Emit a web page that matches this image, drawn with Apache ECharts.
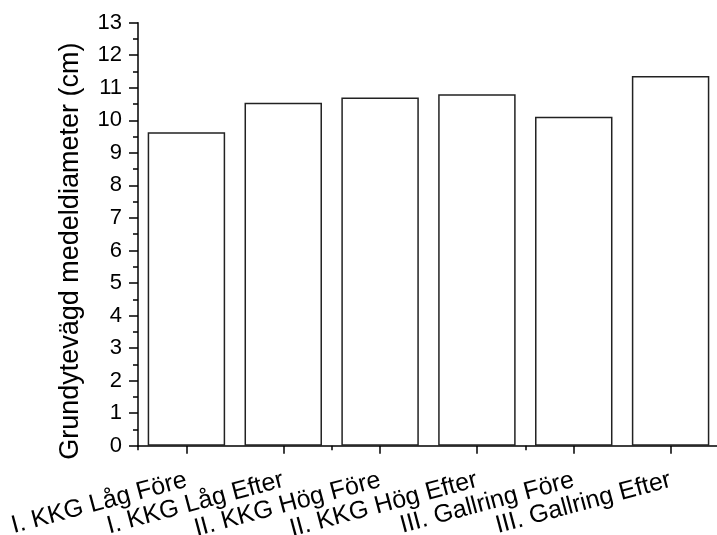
<!DOCTYPE html>
<html>
<head>
<meta charset="utf-8">
<script src="https://cdn.jsdelivr.net/npm/echarts@6/dist/echarts.min.js"></script>
<style>
html,body{margin:0;padding:0;background:#fff;}
#chart{width:717px;height:535px;}
</style>
</head>
<body>
<div id="chart"></div>
<script>
const categories = ["I. KKG Låg Före", "I. KKG Låg Efter", "II. KKG Hög Före", "II. KKG Hög Efter", "III. Gallring Före", "III. Gallring Efter"];
const values = [9.63, 10.54, 10.70, 10.80, 10.11, 11.36];
const yTicks = [0, 1, 2, 3, 4, 5, 6, 7, 8, 9, 10, 11, 12, 13];
const yTitle = "Grundytevägd medeldiameter (cm)";

const font = "'Liberation Sans', Arial, sans-serif";
const chart = echarts.init(document.getElementById('chart'), null, {renderer: 'canvas'});
chart.setOption({
  animation: false,
  backgroundColor: '#fff',
  grid: {left: 138, top: 22.7, width: 581, height: 423, containLabel: false, outerBoundsMode: 'none'},
  xAxis: [{
    type: 'category',
    data: categories,
    axisLine: {show: true, lineStyle: {color: '#000', width: 1.5}},
    axisTick: {show: true, alignWithLabel: true, length: 8, lineStyle: {color: '#000', width: 1.5}},
    axisLabel: {show: true, rotate: 15, margin: 34, color: '#000', fontSize: 25, fontFamily: font, interval: 0},
    splitLine: {show: false}
  }, {
    type: 'category',
    data: categories,
    position: 'bottom',
    axisLine: {show: false},
    axisTick: {show: true, length: 4.5, lineStyle: {color: '#000', width: 1.5}},
    axisLabel: {show: false},
    splitLine: {show: false}
  }],
  yAxis: {
    type: 'value',
    min: yTicks[0],
    max: yTicks[yTicks.length - 1],
    interval: 1,
    name: yTitle,
    nameLocation: 'middle',
    nameGap: 54,
    nameTextStyle: {color: '#000', fontSize: 27, fontFamily: font, padding: [0, 34, 0, 0]},
    axisLine: {show: true, lineStyle: {color: '#000', width: 1.5}},
    axisTick: {show: true, length: 9, lineStyle: {color: '#000', width: 1.5}},
    minorTick: {show: true, splitNumber: 2, length: 5, lineStyle: {color: '#000', width: 1.5}},
    axisLabel: {color: '#000', fontSize: 22, fontFamily: font, margin: 16},
    splitLine: {show: false},
    minorSplitLine: {show: false}
  },
  series: [{
    type: 'bar',
    data: values,
    barCategoryGap: '20%',
    itemStyle: {color: '#fff', borderColor: '#222', borderWidth: 1.5}
  }]
});
</script>
</body>
</html>
